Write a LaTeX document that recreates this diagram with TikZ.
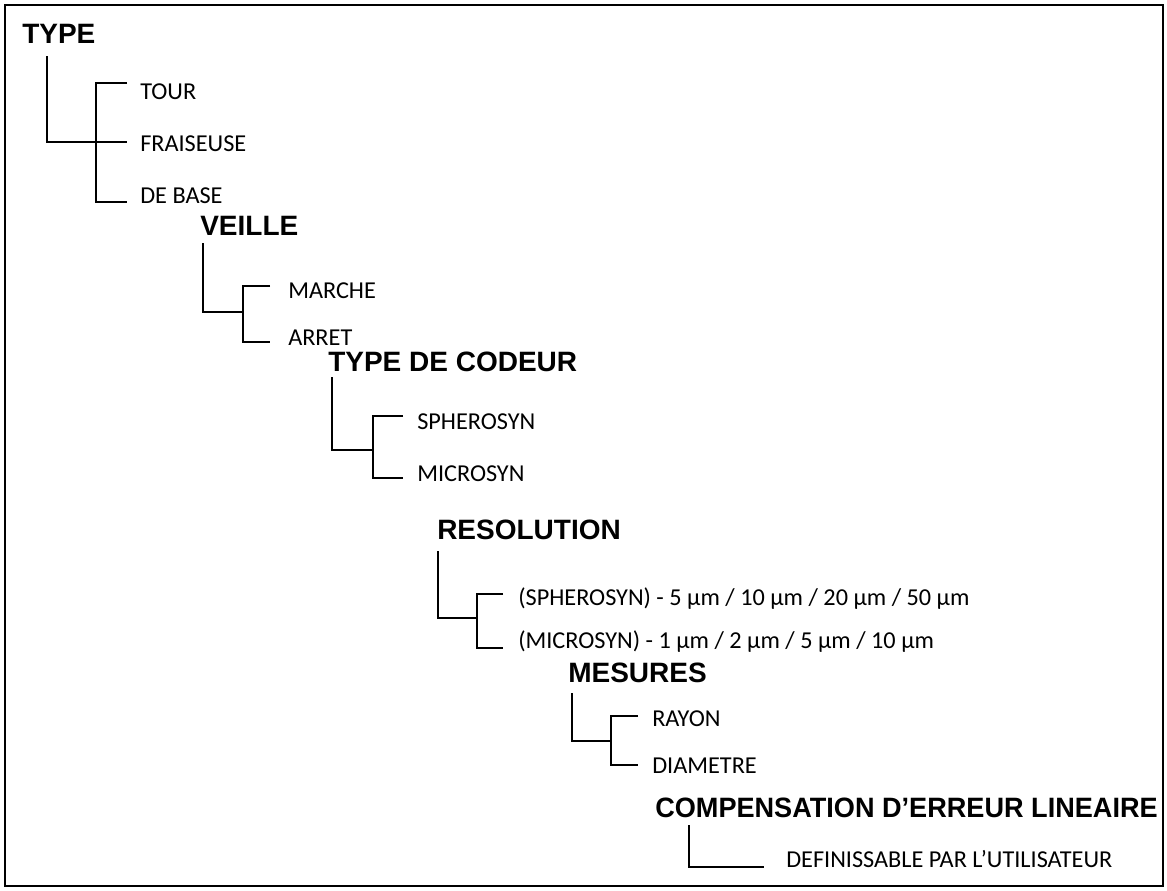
\documentclass[tikz,border=0pt]{standalone}
\usepackage{fontspec}
\setmainfont{Liberation Sans}
\newfontfamily\itemfont[Ligatures=TeX]{Carlito}
\usetikzlibrary{positioning}
\tikzset{
    head/.style={anchor=base west, inner sep=0pt, font=\fontsize{21}{25}\selectfont\bfseries},
    item/.style={anchor=base west, inner sep=0pt, font=\itemfont\fontsize{18.2}{21}\selectfont},
    branch/.style={line width=1.5pt},
    frame/.style={line width=1.5pt},
}

\begin{document}
\begin{tikzpicture}[x=0.75pt, y=-0.75pt]

\useasboundingbox (0,0) rectangle (1167,890);
\draw[frame] (5,5) rectangle (1163,886);

% ── TYPE ──
\node[head] (type) at (22,43) {TYPE};
\node[item] (tour) at (140,99) {TOUR};
\node[item] (fraise) at (140,151) {FRAISEUSE};
\node[item] (base) at (140,203) {DE BASE};
\coordinate (typeroot) at (47,56);
\coordinate (typemid) at (127,142);
\coordinate (typetop) at (127,83);
\coordinate (typebar) at (96,202);
\coordinate (typebot) at (127,202);
\draw[branch] (typeroot) |- (typemid);
\draw[branch] (typetop) -| (typebar) -- (typebot);

% ── VEILLE ──
\node[head] (veille) at (200,235) {VEILLE};
\node[item] (marche) at (288,298) {MARCHE};
\node[item] (arret) at (288,345) {ARRET};
\coordinate (veilleroot) at (203,243);
\coordinate (veillejoin) at (243,312);
\coordinate (veilletop) at (270,286);
\coordinate (veillebar) at (243,342);
\coordinate (veillebot) at (270,342);
\draw[branch] (veilleroot) |- (veillejoin);
\draw[branch] (veilletop) -| (veillebar) -- (veillebot);

% ── TYPE DE CODEUR ──
\node[head] (codeur) at (328,371) {TYPE DE CODEUR};
\node[item] (sphero) at (417,429) {SPHEROSYN};
\node[item] (micro) at (417,481) {MICROSYN};
\coordinate (codeurroot) at (332,377);
\coordinate (codeurjoin) at (373,450);
\coordinate (codeurtop) at (403,416);
\coordinate (codeurbar) at (373,478);
\coordinate (codeurbot) at (403,478);
\draw[branch] (codeurroot) |- (codeurjoin);
\draw[branch] (codeurtop) -| (codeurbar) -- (codeurbot);

% ── RESOLUTION ──
\node[head] (resol) at (437,539) {RESOLUTION};
\node[item] (resolsph) at (518,605) {(SPHEROSYN) - 5 µm / 10 µm / 20 µm / 50 µm};
\node[item] (resolmic) at (518,648) {(MICROSYN) - 1 µm / 2 µm / 5 µm / 10 µm};
\coordinate (resolroot) at (438,551);
\coordinate (resoljoin) at (477,618);
\coordinate (resoltop) at (503,594);
\coordinate (resolbar) at (477,648);
\coordinate (resolbot) at (503,648);
\draw[branch] (resolroot) |- (resoljoin);
\draw[branch] (resoltop) -| (resolbar) -- (resolbot);

% ── MESURES ──
\node[head] (mesures) at (568,682) {MESURES};
\node[item] (rayon) at (652,726) {RAYON};
\node[item] (diam) at (652,773) {DIAMETRE};
\coordinate (mesroot) at (572,693);
\coordinate (mesjoin) at (611,741);
\coordinate (mestop) at (638,716);
\coordinate (mesbar) at (611,765);
\coordinate (mesbot) at (638,765);
\draw[branch] (mesroot) |- (mesjoin);
\draw[branch] (mestop) -| (mesbar) -- (mesbot);

% ── COMPENSATION ──
\node[head] (comp) at (655,817) {\scalebox{0.968}[1]{COMPENSATION D’ERREUR LINEAIRE}};
\node[item] (defin) at (786,867) {DEFINISSABLE PAR L’UTILISATEUR};
\coordinate (comproot) at (689,825);
\coordinate (compend) at (764,867);
\draw[branch] (comproot) |- (compend);

\end{tikzpicture}
\end{document}
